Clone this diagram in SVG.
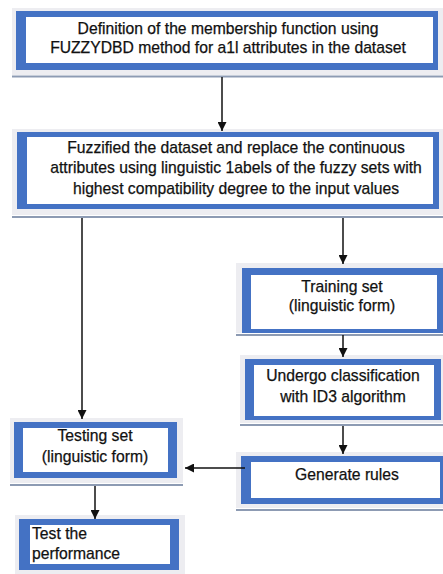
<svg xmlns="http://www.w3.org/2000/svg" width="443" height="574" viewBox="0 0 443 574">
  <style>
    .frame { fill: #ededf1; }
    .blue { fill: #4472c4; }
    .inner { fill: #ffffff; }
    .base { stroke: #8d9bb3; stroke-width: 2; }
    .txt { font-family: "Liberation Sans", Arial, sans-serif; font-size: 15.7px; fill: #111; stroke: #111; stroke-width: 0.25; text-anchor: middle; }
    .left { text-anchor: start; }
    .edge { stroke: #111; stroke-width: 1.5; fill: none; marker-end: url(#arrow); }
  </style>
  <defs>
    <marker id="arrow" viewBox="0 0 10 10" refX="10" refY="5" markerWidth="9" markerHeight="9" markerUnits="userSpaceOnUse" orient="auto">
      <path d="M0,0 L10,5 L0,10 z" fill="#111"/>
    </marker>
  </defs>
  <rect width="443" height="574" fill="#ffffff"/>

  <g id="definition">
    <rect class="frame" x="12" y="8" width="431" height="67"/>
    <rect class="blue" x="16" y="11" width="422" height="59"/>
    <rect class="inner" x="26" y="17" width="407" height="46"/>
    <line class="base" x1="12" y1="76.5" x2="443" y2="76.5"/>
    <text class="txt" x="228" y="34">Definition of the membership function using</text>
    <text class="txt" x="228" y="53">FUZZYDBD method for a1l attributes in the dataset</text>
  </g>

  <g id="fuzzify">
    <rect class="frame" x="12" y="129" width="431" height="86"/>
    <rect class="blue" x="17" y="132" width="422" height="77"/>
    <rect class="inner" x="27" y="137" width="406" height="67"/>
    <line class="base" x1="12" y1="217" x2="443" y2="217"/>
    <text class="txt" x="236" y="153">Fuzzified the dataset and replace the continuous</text>
    <text class="txt" x="236" y="173">attributes using linguistic 1abels of the fuzzy sets with</text>
    <text class="txt" x="236" y="194">highest compatibility degree to the input values</text>
  </g>

  <g id="training">
    <rect class="frame" x="236" y="263" width="207" height="70"/>
    <rect class="blue" x="242" y="268" width="201" height="65"/>
    <rect class="inner" x="251" y="275" width="186" height="54"/>
    <line class="base" x1="236" y1="335" x2="443" y2="335"/>
    <text class="txt" x="342" y="292">Training set</text>
    <text class="txt" x="342" y="311">(linguistic form)</text>
  </g>

  <g id="classify">
    <rect class="frame" x="240" y="355" width="203" height="68"/>
    <rect class="blue" x="245" y="359" width="196" height="61"/>
    <rect class="inner" x="254" y="365" width="180" height="51"/>
    <line class="base" x1="240" y1="425" x2="443" y2="425"/>
    <text class="txt" x="343" y="381">Undergo classification</text>
    <text class="txt" x="343" y="402">with ID3 algorithm</text>
  </g>

  <g id="rules">
    <rect class="frame" x="236" y="452" width="207" height="56"/>
    <rect class="blue" x="241" y="456" width="202" height="48"/>
    <rect class="inner" x="251" y="462" width="189" height="36"/>
    <line class="base" x1="236" y1="510" x2="443" y2="510"/>
    <text class="txt" x="347" y="480">Generate rules</text>
  </g>

  <g id="testing">
    <rect class="frame" x="10" y="418" width="173" height="65"/>
    <rect class="blue" x="14" y="422" width="163" height="56"/>
    <rect class="inner" x="23" y="428" width="145" height="44"/>
    <line class="base" x1="10" y1="485" x2="183" y2="485"/>
    <text class="txt" x="95" y="441">Testing set</text>
    <text class="txt" x="95" y="462">(linguistic form)</text>
  </g>

  <g id="performance">
    <rect class="frame" x="15" y="515" width="170" height="59"/>
    <rect class="blue" x="19" y="519" width="160" height="51"/>
    <rect class="inner" x="30" y="525" width="140" height="39"/>
    <text class="txt left" x="32" y="539">Test the</text>
    <text class="txt left" x="32" y="559">performance</text>
  </g>

  <g id="connectors">
    <line class="edge" x1="222" y1="77" x2="222" y2="131"/>
    <line class="edge" x1="82" y1="218" x2="82" y2="419"/>
    <line class="edge" x1="343" y1="218" x2="343" y2="264"/>
    <line class="edge" x1="343" y1="335" x2="343" y2="357"/>
    <line class="edge" x1="343" y1="426" x2="343" y2="454"/>
    <line class="edge" x1="245" y1="468" x2="185" y2="468"/>
    <line class="edge" x1="95" y1="486" x2="95" y2="519"/>
  </g>
</svg>
